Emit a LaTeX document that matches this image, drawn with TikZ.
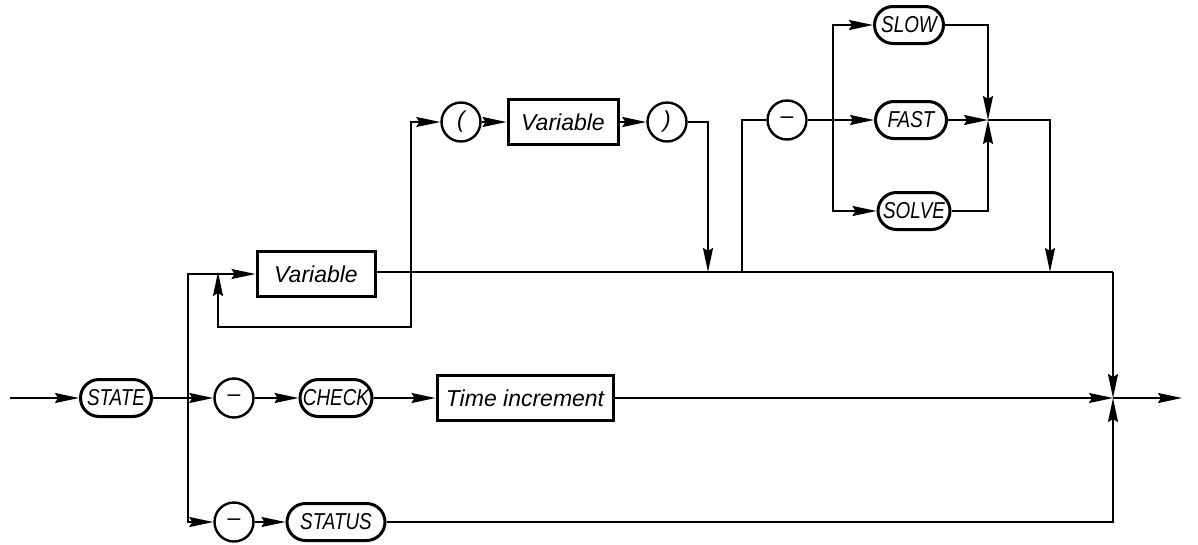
\documentclass[tikz,border=0pt]{standalone}
\usepackage{fontspec}
\setmainfont{Liberation Sans}
\newfontfamily\termfont{Liberation Sans}[FakeStretch=0.82]
\usetikzlibrary{positioning}
\usetikzlibrary{shapes.misc}
\usetikzlibrary{arrows.meta}

\begin{document}
\begin{tikzpicture}[x=1pt,y=-1pt,line width=1.8pt,
  >={Stealth[length=24pt,width=10pt,inset=3pt]},
  term/.style={draw,line width=3pt,rounded rectangle,minimum height=37pt,inner xsep=3pt,
    font=\termfont\fontsize{23}{27}\selectfont\itshape},
  nonterm/.style={draw,line width=3pt,rectangle,minimum height=45pt,inner xsep=4pt,
    font=\fontsize{23}{26}\selectfont\itshape},
  sym/.style={draw,line width=2.4pt,circle,minimum size=39pt,inner sep=0pt,
    font=\fontsize{23}{26}\selectfont\itshape}]
\useasboundingbox (0,0) rectangle (1198,544);
% nodes
\node[term,minimum width=77pt] (state) at (116,398) {STATE};
\node[sym] (minA) at (234,398) {--};
\node[term,minimum width=78pt] (check) at (336,398) {CHECK};
\node[nonterm,minimum width=176pt] (timeinc) at (525,398) {Time increment};
\node[sym] (minB) at (234,522) {--};
\node[term,minimum width=104pt] (status) at (336,522) {STATUS};
\node[nonterm,minimum width=118pt] (var) at (316,274) {Variable};
\node[sym] (lpar) at (461,122) {(};
\node[nonterm,minimum width=110pt] (var2) at (563,122) {Variable};
\node[sym] (rpar) at (667,122) {)};
\node[sym] (minC) at (787,120) {--};
\node[term,minimum width=75pt] (slow) at (909,25) {SLOW};
\node[term,minimum width=77pt] (fast) at (911,120) {FAST};
\node[term,minimum width=78pt] (solve) at (914,211) {SOLVE};
% junctions
\coordinate (start) at (10,398);
\coordinate (splitL) at (188,398);
\coordinate (loopJ) at (411,272);
\coordinate (loopEnd) at (218,272);
\coordinate (dropA) at (708,272);
\coordinate (riseB) at (742,272);
\coordinate (optJ) at (833,120);
\coordinate (optM) at (988,120);
\coordinate (dropB) at (1050,272);
\coordinate (cornerR) at (1113,272);
\coordinate (joinR) at (1113,398);
\coordinate (exit) at (1182,398);
% lower rows
\draw[->] (start) -- (state);
\draw[->] (state) -- (minA);
\draw[->] (splitL) |- (var.west);
\draw[->] (splitL) |- (minB.west);
\draw[->] (minA) -- (check);
\draw[->] (check) -- (timeinc);
\draw[->] (timeinc.east) -- (joinR);
\draw[->] (minB) -- (status);
\draw[->] (status.east) -| (joinR);
\draw[->] (joinR) -- (exit);
% variable row
\draw (var.east |- cornerR) -- (cornerR);
\draw[->] (cornerR) -- (joinR);
\draw[->] (loopJ) -- ++(0,55) -| (loopEnd);
\draw[->] (loopJ) |- (lpar.west);
\draw[->] (lpar) -- (var2);
\draw[->] (var2) -- (rpar);
\draw[->] (rpar.east) -| (dropA);
% options
\draw (riseB) |- (minC.west);
\draw[->] (minC) -- (fast);
\draw[->] (optJ) |- (slow.west);
\draw[->] (optJ) |- (solve.west);
\draw[->] (fast) -- (optM);
\draw[->] (slow.east) -| (optM);
\draw[->] (solve.east) -| (optM);
\draw[->] (optM) -| (dropB);
\end{tikzpicture}
\end{document}
